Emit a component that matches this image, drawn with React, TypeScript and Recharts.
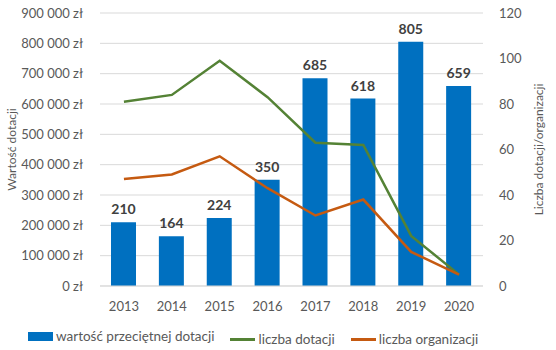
import React from "react";
import {
  ComposedChart,
  Bar,
  Line,
  XAxis,
  YAxis,
  CartesianGrid,
  LabelList,
  Legend
} from "recharts";

const years = ["2013", "2014", "2015", "2016", "2017", "2018", "2019", "2020"];
const avgGrant = [210000, 164000, 224000, 350000, 685000, 618000, 805000, 659000];
const grantCount = [81, 84, 99, 83, 63, 62, 22, 5];
const orgCount = [47, 49, 57, 43, 31, 38, 15, 5];
const leftTicks = [0, 100000, 200000, 300000, 400000, 500000, 600000, 700000, 800000, 900000];
const rightTicks = [0, 20, 40, 60, 80, 100, 120];

const BLUE = "#0070C0";
const GREEN = "#548235";
const ORANGE = "#C55A11";
const TEXT = "#595959";
const FONT = "Lato, 'Open Sans', sans-serif";

const data = years.map((y, i) => ({
  year: y,
  avg: avgGrant[i],
  grants: grantCount[i],
  orgs: orgCount[i]
}));

const fmtZl = (v: number) =>
  String(v).replace(/\B(?=(\d{3})+(?!\d))/g, " ") + " zł";

function LegendBox() {
  const item = (color: string, label: string, bar: boolean) => (
    <span style={{ display: "inline-flex", alignItems: "center", marginRight: 16 }}>
      <span
        style={{
          display: "inline-block",
          width: 25,
          height: bar ? 9 : 3,
          background: color,
          marginRight: 3
        }}
      />
      {label}
    </span>
  );
  return (
    <div
      style={{
        fontFamily: FONT,
        fontSize: 13.5,
        lineHeight: "17px",
        color: TEXT,
        whiteSpace: "nowrap",
        textAlign: "left",
        paddingLeft: 28,
        paddingTop: 14
      }}
    >
      {item(BLUE, "wartość przeciętnej dotacji", true)}
      {item(GREEN, "liczba dotacji", false)}
      {item(ORANGE, "liczba organizacji", false)}
    </div>
  );
}

export default function App() {
  return (
    <div style={{ position: "fixed", left: 0, top: 0, width: 556, height: 350, background: "#fff" }}>
      <ComposedChart
        width={556}
        height={350}
        data={data}
        margin={{ top: 13, right: 0, bottom: 0, left: 0 }}
      >
        <CartesianGrid yAxisId="left" vertical={false} stroke="#d9d9d9" />
        <XAxis
          dataKey="year"
          tickLine={false}
          axisLine={{ stroke: "#d9d9d9" }}
          tick={{ fill: TEXT, fontSize: 13, fontFamily: FONT }}
          tickMargin={10}
          height={28}
        />
        <YAxis
          yAxisId="left"
          domain={[0, 900000]}
          ticks={leftTicks}
          tickFormatter={fmtZl}
          axisLine={false}
          tickLine={false}
          width={100}
          tickMargin={11}
          tick={{ fill: TEXT, fontSize: 13, fontFamily: FONT }}
          label={{
            value: "Wartość dotacji",
            angle: -90,
            position: "insideLeft",
            offset: 12,
            style: { fill: TEXT, fontSize: 12, fontFamily: FONT, textAnchor: "middle" }
          }}
        />
        <YAxis
          yAxisId="right"
          orientation="right"
          domain={[0, 120]}
          ticks={rightTicks}
          axisLine={false}
          tickLine={false}
          width={73}
          tickMargin={10}
          tick={{ fill: TEXT, fontSize: 13, fontFamily: FONT }}
          label={{
            value: "Liczba dotacji/organizacji",
            angle: -90,
            position: "insideRight",
            offset: 17,
            style: { fill: TEXT, fontSize: 12, fontFamily: FONT, textAnchor: "middle" }
          }}
        />
        <Legend
          verticalAlign="bottom"
          content={() => <LegendBox />}
          wrapperStyle={{ height: 36, overflow: "visible" }}
        />
        <Bar yAxisId="left" dataKey="avg" fill={BLUE} barSize={25} isAnimationActive={false}>
          <LabelList
            dataKey="avg"
            position="top"
            offset={8}
            formatter={(v: any) => Math.round(Number(v) / 1000)}
            style={{ fill: "#404040", fontSize: 14, fontWeight: 700, fontFamily: FONT }}
          />
        </Bar>
        <Line
          yAxisId="right"
          dataKey="grants"
          stroke={GREEN}
          strokeWidth={2.5}
          dot={false}
          isAnimationActive={false}
        />
        <Line
          yAxisId="right"
          dataKey="orgs"
          stroke={ORANGE}
          strokeWidth={2.5}
          dot={false}
          isAnimationActive={false}
        />
      </ComposedChart>
    </div>
  );
}
